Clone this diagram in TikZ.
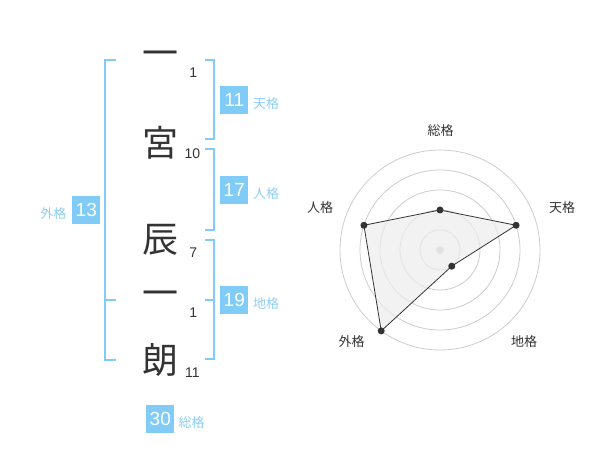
\documentclass[tikz,border=0pt]{standalone}
\usepackage{fontspec}
\setmainfont{Liberation Sans}
\newfontfamily\jp{Noto Sans CJK JP}
\definecolor{brk}{RGB}{129,204,247}
\definecolor{boxc}{RGB}{129,204,247}
\definecolor{lbl}{RGB}{140,206,245}
\definecolor{ink}{RGB}{51,51,51}
\definecolor{ring}{RGB}{204,204,204}
\begin{document}
\begin{tikzpicture}[x=1pt,y=-1pt,
  kanji/.style={inner sep=0pt,font=\jp\fontsize{36}{36}\selectfont,text=ink},
  stroke/.style={inner sep=0pt,font=\fontsize{14}{14}\selectfont,text=ink},
  numbox/.style={fill=boxc,minimum width=28pt,minimum height=28pt,inner sep=0pt,text=white,font=\fontsize{19}{19}\selectfont},
  kaku/.style={inner sep=0pt,text=lbl,font=\jp\fontsize{13}{13}\selectfont},
  bracket/.style={draw=brk,line width=2pt},
  axislabel/.style={inner sep=0pt,text=ink,font=\jp\fontsize{13}{13}\selectfont},
  dot/.style={circle,fill=ink,inner sep=0pt,minimum size=7pt}]
\useasboundingbox (0,0) rectangle (600,470);
% name characters
\node[kanji] (c1) at (160,58.3) {一};
\node[kanji] (c2) at (160,142.5) {宮};
\node[kanji] (c3) at (160,240) {辰};
\node[kanji] (c4) at (160,298.3) {一};
\node[kanji] (c5) at (160,360) {朗};
% stroke counts
\node[stroke] (s1) at (193.3,72.7) {1};
\node[stroke] (s2) at (192.3,153.3) {10};
\node[stroke] (s3) at (193.3,252.7) {7};
\node[stroke] (s4) at (193.3,312.7) {1};
\node[stroke] (s5) at (192.3,372.7) {11};
% brackets
\draw[bracket] (116,60) -- (105,60) -- (105,360) -- (116,360);
\draw[bracket] (105,300) -- (116,300);
\draw[bracket] (205,60) -- (214.3,60) -- (214.3,139.3) -- (205,139.3);
\draw[bracket] (205,149.3) -- (214.3,149.3) -- (214.3,230) -- (205,230);
\draw[bracket] (205,240) -- (214.3,240) -- (214.3,359.3) -- (205,359.3);
\draw[bracket] (205,300) -- (214.3,300);
% boxes
\node[numbox] (ten) at (234.3,100.3) {11};
\node[kaku] (tenl) at (266,104) {天格};
\node[numbox] (jin) at (234.3,190.3) {17};
\node[kaku] (jinl) at (266,193.3) {人格};
\node[numbox] (chi) at (234.3,300.3) {19};
\node[kaku] (chil) at (266,304) {地格};
\node[numbox] (gai) at (86.3,210.3) {13};
\node[kaku] (gail) at (53.3,213.3) {外格};
\node[numbox] (sou) at (160.3,419.2) {30};
\node[kaku] (soul) at (191.7,422.7) {総格};
% radar chart
\begin{scope}[shift={(440,250)}]
  \foreach \r in {20,40,60,80,100} \draw[ring,line width=0.8pt] (0,0) circle[radius=\r];
  \coordinate (pS) at (-90:40);
  \coordinate (pT) at (-18:80);
  \coordinate (pC) at (54:20);
  \coordinate (pG) at (126:100);
  \coordinate (pJ) at (198:80);
  \fill[ring,radius=4pt] (0,0) circle;
  \filldraw[fill=gray!15,fill opacity=0.7,draw=ink,line width=0.8pt] (pS) -- (pT) -- (pC) -- (pG) -- (pJ) -- cycle;
  \foreach \p in {pS,pT,pC,pG,pJ} \node[dot] at (\p) {};
\end{scope}
\node[axislabel] (aS) at (440.7,130.7) {総格};
\node[axislabel] (aT) at (562,208) {天格};
\node[axislabel] (aC) at (524,341.7) {地格};
\node[axislabel] (aG) at (351.7,341.7) {外格};
\node[axislabel] (aJ) at (320,208) {人格};
\end{tikzpicture}
\end{document}
